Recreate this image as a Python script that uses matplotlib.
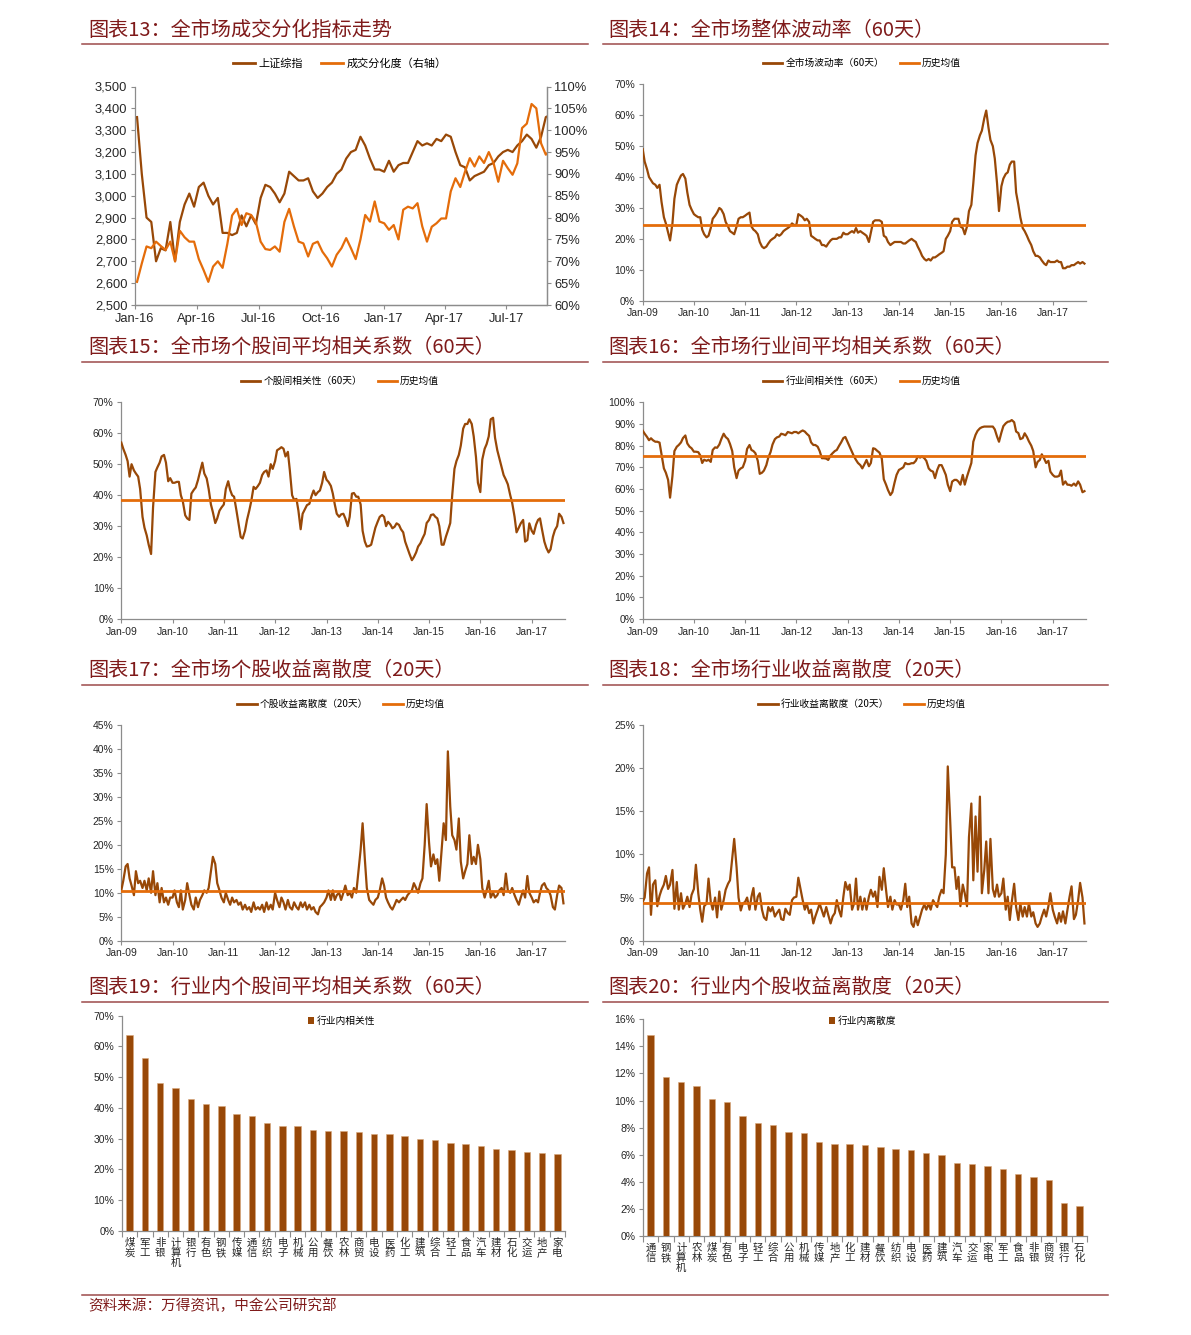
import numpy as np
import pandas as pd
import matplotlib
matplotlib.use('Agg')
import matplotlib.pyplot as plt
import matplotlib.dates as mdates
from matplotlib.ticker import FuncFormatter, FixedLocator
from matplotlib.lines import Line2D
from matplotlib.patches import Patch

plt.rcParams['font.family'] = ['Liberation Sans', 'Noto Sans CJK SC', 'DejaVu Sans']
CJK = ['Noto Sans CJK SC', 'DejaVu Sans']

# ---------------- data ----------------
# Chart 13 (weekly, from 2016-01-04)
sse_index = [3360, 3100, 2900, 2880, 2700, 2760, 2750, 2880, 2700, 2880,
             2960, 3010, 2950, 3040, 3060, 3000, 2960, 2990, 2830, 2830,
             2820, 2830, 2910, 2860, 2910, 2870, 2990, 3050, 3040, 3010,
             2970, 3010, 3110, 3090, 3070, 3070, 3080, 3020, 2990, 3010,
             3040, 3060, 3100, 3120, 3170, 3200, 3210, 3270, 3230, 3170,
             3120, 3120, 3110, 3160, 3110, 3140, 3150, 3150, 3200, 3250,
             3230, 3240, 3230, 3260, 3250, 3280, 3270, 3200, 3140, 3130,
             3070, 3090, 3100, 3110, 3140, 3150, 3180, 3200, 3210, 3200,
             3230, 3250, 3280, 3260, 3220, 3270, 3360, 3370]
turnover_div = [65.3, 69.5, 73.4, 73.0, 74.5, 73.5, 72.6, 74.5, 70.0, 77.0,
                75.5, 74.5, 74.5, 70.5, 68.0, 65.3, 68.8, 70.0, 68.5, 74.0,
                80.5, 82.0, 78.3, 81.0, 80.6, 79.0, 74.5, 72.8, 72.6, 73.4,
                72.2, 79.0, 82.0, 78.0, 74.5, 74.1, 71.1, 74.0, 74.5, 72.2,
                70.7, 68.8, 71.5, 73.0, 75.3, 73.0, 70.5, 75.0, 80.6, 79.1,
                83.7, 79.1, 78.7, 77.2, 78.3, 75.0, 81.8, 82.5, 82.1, 83.3,
                78.0, 74.5, 77.9, 78.7, 79.8, 79.8, 86.0, 89.0, 87.0, 90.5,
                93.6, 91.7, 94.0, 92.5, 95.0, 92.5, 88.2, 93.0, 91.3, 89.8,
                92.4, 100.5, 101.5, 106.0, 105.0, 97.0, 94.4, 95.5]

# Charts 14-18 (semi-monthly, 2009-01 .. 2017-08), values in %
market_vol = [
    49, 45, 42.5, 40, 39, 38, 37.5, 36.5, 37.5, 32, 27, 25, 22, 19.5, 25, 33, 37.5, 39, 40.5, 41, 39.5, 35, 31, 29.5,
    28, 27.5, 27, 27, 23, 21.5, 20.5, 21, 23.5, 26.5, 27.5, 28.5, 30, 29.5, 28, 25.5, 24, 22.5, 22, 21.5, 24, 26.5, 27, 27,
    27.5, 28, 28.5, 24, 23, 22.5, 21.5, 19, 17.5, 17, 17.5, 18.5, 19.5, 20, 20.5, 21.5, 21, 21.5, 22.5, 23, 23.5, 24, 25, 24.5,
    24.5, 28, 27.5, 27, 26, 26.5, 25.5, 21, 20.5, 20, 19.5, 19.5, 18, 18, 17.5, 18.5, 19.5, 20, 20, 20, 20.5, 20.5, 22, 21.5,
    21.5, 22, 22.5, 22, 23.5, 22, 22.5, 22, 21.5, 21, 19, 22, 25.5, 26, 26, 26, 25.5, 21, 20.5, 19, 18, 18.5, 19, 19,
    19, 19, 18.5, 18.5, 19, 19.5, 20, 19.5, 19, 17.5, 16, 14.5, 13.5, 13, 13.5, 13, 14, 14, 14.5, 15, 15.5, 16, 20, 21,
    22.5, 25.5, 26.5, 26.5, 26.5, 24, 23.5, 21.5, 24, 29, 31, 38, 47, 51, 53.5, 55, 59, 61.5, 56, 52, 50, 46, 38, 29,
    37, 39.5, 41, 41.5, 44, 45, 45, 35, 31, 27, 23.5, 22.5, 21, 19.5, 18, 16, 14.5, 14.5, 14, 13, 12, 11.5, 13, 12.5,
    12.5, 12.5, 13, 12.5, 12.5, 10.5, 10.5, 11, 11, 11.5, 11.5, 12, 12.5, 12, 12.5, 12]
market_vol_mean = 24.6

stock_corr = [
    57, 55, 53, 51, 46, 50, 48, 47, 46, 42, 33, 29.5, 27, 24, 21, 36, 47.5, 49, 50.5, 52.5, 53, 50.5, 44.5, 45.5,
    44, 44, 44.3, 44.3, 40, 38, 33.5, 32.5, 32, 40.5, 41.7, 42.5, 44.9, 47.5, 50.5, 47, 45.4, 42, 37, 34.5, 31, 32.5, 35, 36,
    37, 42, 44.5, 41.7, 40, 39.5, 35, 31, 26.5, 26, 28.5, 32, 35, 38, 42.7, 42, 43, 44, 46.5, 47.5, 48, 46, 50, 48.5,
    51, 54.5, 55, 55.5, 55, 52.5, 54, 48, 40, 38.5, 38.8, 35, 29, 34, 35.5, 36.8, 37.2, 39.5, 41.5, 40, 41, 41.5, 44, 47.5,
    45, 44.3, 43, 40.5, 37, 34, 33, 33.8, 34, 32.5, 30, 33, 40.5, 40.7, 39.5, 39.5, 37, 28.5, 25, 23.4, 23.6, 24, 27, 29.5,
    31.5, 33, 33.6, 33, 30, 31.4, 30.5, 29.3, 29.8, 30.9, 30.4, 29, 28, 25, 22.8, 21, 19, 20, 21.5, 23.4, 24.5, 26, 27.5, 31,
    32, 33.6, 33.8, 33, 32.5, 30, 24, 24, 26.6, 28.5, 31, 40, 48.5, 51, 53, 56, 61.5, 63, 63, 64.5, 63, 59, 52.4, 44,
    41, 51.5, 55, 56.5, 59, 64.5, 65, 58.5, 54.5, 52, 49, 46.5, 45, 43.5, 40, 37.5, 33, 28, 29.5, 30.9, 32, 25, 25.5, 30.9,
    28.5, 27.5, 30.5, 32, 32.5, 29, 25, 23, 21.5, 22.5, 26.6, 28.7, 30, 34, 33, 31]
stock_corr_mean = 38.6

industry_corr = [
    86.9, 85.5, 84, 82.5, 83.4, 82.5, 81.8, 81.8, 81.4, 76, 69.5, 67.5, 64.2, 56, 66, 77.5, 79.5, 80.3, 81.5, 83.5, 84.7, 81, 79.5, 78.8,
    77.2, 77.2, 77, 75.5, 72, 73.5, 73, 73.5, 72.5, 78, 79.2, 79, 80.5, 83, 85.5, 84, 83, 80.8, 77.5, 70, 65, 68.5, 69.5, 70,
    73, 78.5, 80.3, 78, 77.5, 76.5, 73, 67, 67.5, 68.5, 71, 74.5, 77, 80.5, 83, 83.8, 84.2, 85.5, 85.2, 84.8, 86.3, 86, 85.7, 86.3,
    86.3, 85.7, 86.5, 87, 86.5, 85.5, 84.5, 81.5, 80.3, 80.3, 79.5, 77.5, 74.2, 74.2, 74, 73.4, 75.5, 76.5, 77.5, 78, 80, 81.5, 83.5, 84,
    81.5, 79.5, 77, 75, 73.4, 72, 71, 69.5, 71.5, 73.4, 70.5, 72, 78.8, 78.5, 77.5, 76.8, 74, 64.5, 62, 59.5, 57.2, 58.5, 63, 66.5,
    68.8, 69.3, 70, 72, 71.5, 71.5, 71.9, 71.9, 73, 75, 74.5, 75, 74.2, 73, 69.5, 68.5, 68, 65, 68.8, 71, 71, 69, 66.5, 62,
    59, 63.4, 64.2, 64.2, 63.4, 62, 66.5, 62, 65.7, 68.5, 72, 81.8, 85, 86.8, 88, 88.5, 88.8, 88.8, 88.8, 88.8, 88.8, 87.5, 84.2, 81.8,
    86, 89, 90.3, 91, 91.2, 91.8, 90.8, 86.5, 85.8, 83, 83.5, 85.7, 84, 82, 80, 77.5, 70, 72.5, 73.4, 76, 74, 72, 73, 68,
    66.5, 65.7, 65.7, 66, 68.5, 62, 63.5, 62, 61.9, 61.5, 62.5, 61.5, 63.5, 62, 58.5, 59]
industry_corr_mean = 75.4

stock_disp = [
    10.5, 12.5, 15.5, 16, 13, 11.5, 9.5, 14.5, 12, 12.5, 11, 12.5, 10.5, 13, 10, 14.5, 9.5, 12, 8, 11, 8, 9, 7.5, 9,
    9, 10.5, 8, 7, 10.5, 6.5, 8.5, 12, 9.5, 7.5, 6.5, 9, 7, 8.5, 9.5, 10.5, 10, 11, 14.5, 17.5, 16, 12, 10.5, 9,
    8, 10, 8.5, 7.5, 9, 8, 8.5, 7.5, 8, 6.5, 7.5, 6.5, 7, 6, 8, 6.5, 7, 6.5, 7.5, 6, 8, 6.5, 7.5, 6.5,
    10, 8.5, 7, 9, 8, 6.5, 8.5, 7, 6.5, 8, 7, 6.5, 8, 7, 8, 6.5, 7.5, 6.5, 7, 6, 5.5, 7, 7.5, 8,
    9, 10.5, 8.5, 10.5, 8.5, 9.5, 10, 8.5, 10, 11.5, 9.5, 10, 9, 11, 10, 14, 19, 24.5, 17, 11, 8.5, 8, 7.5, 8.5,
    9, 10.5, 13, 11.5, 9, 8, 7, 6.5, 7.5, 8.5, 8, 8.5, 9, 8.5, 9.5, 10, 10.5, 12, 11, 10, 12, 13, 20, 28.5,
    20.5, 15.5, 18, 16, 17, 12.5, 19, 24.5, 21, 39.5, 28, 22, 21, 19, 25.5, 16.5, 13, 14.5, 16, 22, 16, 17.5, 16, 20,
    17, 11, 9, 10.5, 12.5, 9, 10, 9, 9.5, 10.5, 11, 9.5, 14, 10.5, 10, 11, 9.5, 8.5, 7.5, 9, 10.5, 9, 13.5, 10,
    9, 8, 8.5, 8, 10, 11.5, 12, 11, 10.5, 9.5, 7, 6.5, 9.5, 11.5, 11, 7.8]
stock_disp_mean = 10.4

industry_disp = [
    4.5, 5, 7.8, 8.5, 3, 6.5, 7, 4, 5.2, 5.9, 6.5, 7.5, 6, 6.5, 8.2, 3.7, 6.8, 3.6, 5.5, 3.7, 4.3, 5.1, 3.9, 5.3,
    6, 8.8, 5.5, 3.6, 2.2, 4, 4.3, 7.2, 4.5, 3.6, 5, 2.7, 5.7, 3.6, 4.7, 5.9, 6.6, 7, 9.5, 11.8, 8.5, 5, 3.5, 4.3,
    4.5, 5, 3.6, 5.1, 6.1, 3.6, 5.1, 5.5, 3.6, 2.7, 2.4, 3.9, 3.4, 3.9, 2.8, 3.2, 3.6, 2.5, 2.4, 3.7, 3.2, 3, 4.7, 5,
    5.1, 7.3, 5.9, 4.7, 3.6, 4.3, 3.2, 3.6, 2, 2.8, 3.6, 4.3, 3.5, 2.8, 3.9, 3, 2, 2.8, 3.2, 4.7, 3.5, 2.8, 5.1, 6.8,
    5.9, 6.5, 3.6, 4.3, 7.2, 3.6, 5.1, 3.6, 4.9, 3.6, 5.1, 5.9, 5.1, 5.7, 3.9, 7.4, 5.9, 8.4, 5.9, 3.9, 5.1, 3.6, 4.7, 4.2,
    4.2, 3.6, 4.7, 6.6, 3.9, 5.1, 2, 1.6, 2.8, 1.8, 2.8, 3.6, 4.2, 3.6, 4.3, 3.6, 4.7, 4.3, 3.9, 5.1, 5.9, 5.5, 10, 20.2,
    14, 8.5, 8.5, 6, 7.4, 4, 6.5, 5.5, 4, 12, 15.9, 7, 14.4, 8, 16.7, 5.5, 8.2, 11.5, 5.5, 11.8, 6, 5.1, 6.5, 5.1,
    5.5, 7.2, 3.6, 5.1, 2.4, 4.5, 6.6, 3.9, 2.4, 4.3, 2.8, 3.9, 2.8, 4.3, 2.8, 3.3, 2, 1.6, 2, 2.8, 3.6, 2.8, 4, 5.5,
    3.6, 2.8, 2, 3.2, 2.2, 3.4, 2, 3.5, 5.1, 6.3, 2.5, 3, 4.7, 6.7, 5, 2]
industry_disp_mean = 4.4

# Chart 19
corr_inds = ['煤炭', '军工', '非银', '计算机', '银行', '有色', '钢铁', '传媒', '通信', '纺织',
             '电子', '机械', '公用', '餐饮', '农林', '商贸', '电设', '医药', '化工', '建筑',
             '综合', '轻工', '食品', '汽车', '建材', '石化', '交运', '地产', '家电']
corr_vals = [63.7, 56.1, 48.2, 46.5, 42.8, 41.3, 40.6, 37.9, 37.3, 35.0,
             34.0, 34.0, 32.8, 32.6, 32.6, 32.1, 31.6, 31.4, 30.9, 29.9,
             29.7, 28.7, 28.2, 27.5, 26.8, 26.2, 25.8, 25.2, 25.0]
# Chart 20
disp_inds = ['通信', '钢铁', '计算机', '农林', '煤炭', '有色', '电子', '轻工', '综合', '公用',
             '机械', '传媒', '地产', '化工', '建材', '餐饮', '纺织', '电设', '医药', '建筑',
             '汽车', '交运', '家电', '军工', '食品', '非银', '商贸', '银行', '石化']
disp_vals = [14.85, 11.75, 11.38, 11.08, 10.15, 9.88, 8.89, 8.33, 8.23, 7.66,
             7.61, 6.95, 6.82, 6.82, 6.70, 6.55, 6.43, 6.33, 6.16, 6.01,
             5.37, 5.32, 5.15, 4.93, 4.56, 4.33, 4.16, 2.41, 2.22]

dates13 = pd.date_range('2016-01-04', periods=len(sse_index), freq='7D')
dates_semi = pd.date_range('2009-01-01', periods=len(market_vol), freq='SMS')

# ---------------- style ----------------
BROWN = '#984807'
ORANGE = '#E46C0A'
TITLE_C = '#7F1A1A'
RULE_C = '#9C4A4A'
SPINE_C = '#8C8C8C'
TXT_C = '#262626'

W, H = 1191, 1335
fig = plt.figure(figsize=(W / 100, H / 100), dpi=100)
fig.patch.set_facecolor('white')


def add_ax(l, t, r, b):
    return fig.add_axes([l / W, 1 - b / H, (r - l) / W, (b - t) / H])


def style(ax, size=7.5, right=False):
    ax.spines['top'].set_visible(False)
    if not right:
        ax.spines['right'].set_visible(False)
    for s in ax.spines.values():
        s.set_color(SPINE_C)
        s.set_linewidth(0.9)
    ax.tick_params(colors=SPINE_C, labelcolor=TXT_C, length=3, width=0.8,
                   direction='out', labelsize=size, pad=2.5)
    ax.set_facecolor('white')


def pct_fmt(v, p):
    return f'{int(round(v))}%'


def fig_text(x, y, s, **kw):
    fig.text(x / W, 1 - y / H, s, **kw)


def rule(x0, x1, y):
    fig.add_artist(Line2D([x0 / W, x1 / W], [1 - y / H, 1 - y / H], color=RULE_C, lw=1.1))


def legend_at(ax, handles, labels, cx, cy, size=7, **kw):
    ax.legend(handles, labels, loc='center', bbox_to_anchor=(cx / W, 1 - cy / H),
              bbox_transform=fig.transFigure, ncol=len(handles), frameon=False,
              prop={'family': CJK, 'size': size}, handlelength=2.0,
              columnspacing=1.6, handletextpad=0.3, **kw)


# ---------------- titles ----------------
titles = [
    (88, 30, '图表13：全市场成交分化指标走势', 82, 588, 44),
    (608, 30, '图表14：全市场整体波动率（60天）', 603, 1108, 44),
    (88, 347, '图表15：全市场个股间平均相关系数（60天）', 82, 588, 362),
    (608, 347, '图表16：全市场行业间平均相关系数（60天）', 603, 1108, 362),
    (88, 670, '图表17：全市场个股收益离散度（20天）', 82, 588, 685),
    (608, 670, '图表18：全市场行业收益离散度（20天）', 603, 1108, 685),
    (88, 987, '图表19：行业内个股间平均相关系数（60天）', 82, 588, 1002),
    (608, 987, '图表20：行业内个股收益离散度（20天）', 603, 1108, 1002),
]
for x, y, s, x0, x1, ly in titles:
    fig_text(x, y, s, family=CJK, fontsize=14.5, color=TITLE_C, va='center', ha='left')
    rule(x0, x1, ly)

rule(82, 1108, 1295)
fig_text(88, 1306, '资料来源：万得资讯，中金公司研究部', family=CJK, fontsize=10.5,
         color=TITLE_C, va='center', ha='left')

# ---------------- chart 13 ----------------
ax = add_ax(135, 86.5, 546.5, 305)
style(ax, size=9.3, right=True)
ax.plot(dates13, sse_index, color=BROWN, lw=1.6)
ax.set_ylim(2500, 3500)
ax.set_yticks(np.arange(2500, 3501, 100))
ax.yaxis.set_major_formatter(FuncFormatter(lambda v, p: f'{int(v):,}'))
ax.set_xlim(pd.Timestamp('2016-01-01'), pd.Timestamp('2017-08-29'))
ax.xaxis.set_major_locator(mdates.MonthLocator(bymonth=[1, 4, 7, 10]))
ax.xaxis.set_major_formatter(mdates.DateFormatter('%b-%y'))
ax2 = ax.twinx()
style(ax2, size=9.3, right=True)
ax2.spines['left'].set_visible(False)
ax2.plot(dates13, turnover_div, color=ORANGE, lw=1.6)
ax2.set_ylim(60, 110)
ax2.set_yticks(np.arange(60, 111, 5))
ax2.yaxis.set_major_formatter(FuncFormatter(pct_fmt))
legend_at(ax2, [Line2D([], [], color=BROWN, lw=2), Line2D([], [], color=ORANGE, lw=2)],
          ['上证综指', '成交分化度（右轴）'], 340, 64, size=8)


# ---------------- time series charts 14-18 ----------------
def ts_chart(box, series, mean_val, ymax, ystep, label, legend_xy):
    a = add_ax(*box)
    style(a)
    a.plot(dates_semi, series, color=BROWN, lw=1.6, zorder=3)
    a.plot([dates_semi[0], dates_semi[-1] + pd.Timedelta(days=11)], [mean_val, mean_val],
           color=ORANGE, lw=2.0, zorder=4)
    a.set_ylim(0, ymax)
    a.set_yticks(np.arange(0, ymax + 0.01, ystep))
    a.yaxis.set_major_formatter(FuncFormatter(pct_fmt))
    a.set_xlim(pd.Timestamp('2009-01-01'), pd.Timestamp('2017-08-26'))
    a.xaxis.set_major_locator(mdates.YearLocator())
    a.xaxis.set_major_formatter(mdates.DateFormatter('%b-%y'))
    legend_at(a, [Line2D([], [], color=BROWN, lw=2), Line2D([], [], color=ORANGE, lw=2)],
              [label, '历史均值'], *legend_xy, size=7)
    return a


ts_chart((642.7, 84.3, 1086, 300.7), market_vol, market_vol_mean, 70, 10,
         '全市场波动率（60天）', (862, 63))
ts_chart((121.3, 402.3, 565, 619), stock_corr, stock_corr_mean, 70, 10,
         '个股间相关性（60天）', (340, 381))
ts_chart((642.7, 402.3, 1086, 619), industry_corr, industry_corr_mean, 100, 10,
         '行业间相关性（60天）', (862, 381))
ts_chart((121.3, 725, 565, 940.7), stock_disp, stock_disp_mean, 45, 5,
         '个股收益离散度（20天）', (341, 704))
ts_chart((642.7, 725, 1086, 940.7), industry_disp, industry_disp_mean, 25, 5,
         '行业收益离散度（20天）', (862, 704))


# ---------------- bar charts 19-20 ----------------
def bar_chart(box, cats, vals, ymax, ystep, label, legend_xy):
    a = add_ax(*box)
    style(a)
    x = np.arange(len(cats))
    a.bar(x, vals, width=0.42, color=BROWN, edgecolor='#D9A77C', linewidth=0.4, zorder=3)
    a.set_xlim(-0.5, len(cats) - 0.5)
    a.set_ylim(0, ymax)
    a.set_yticks(np.arange(0, ymax + 0.01, ystep))
    a.yaxis.set_major_formatter(FuncFormatter(pct_fmt))
    a.set_xticks(x)
    a.set_xticklabels(['\n'.join(c) for c in cats], family=CJK, fontsize=7.5,
                      linespacing=1.0, va='top')
    a.tick_params(axis='x', length=0, pad=5)
    a.xaxis.set_minor_locator(FixedLocator(np.arange(-0.5, len(cats), 1.0)))
    a.tick_params(axis='x', which='minor', length=4, color=SPINE_C, width=0.8)
    a.legend([Patch(facecolor=BROWN, edgecolor='none')], [label], loc='center',
             bbox_to_anchor=(legend_xy[0] / W, 1 - legend_xy[1] / H),
             bbox_transform=fig.transFigure, frameon=False,
             prop={'family': CJK, 'size': 7}, handlelength=0.6, handleheight=0.6,
             handletextpad=0.3)
    return a


bar_chart((122, 1015.7, 565, 1231), corr_inds, corr_vals, 70, 10, '行业内相关性', (342, 1021))
bar_chart((643, 1019.3, 1087, 1236), disp_inds, disp_vals, 16, 2, '行业内离散度', (863, 1021))

fig.savefig('out.png', dpi=100, facecolor='white')
